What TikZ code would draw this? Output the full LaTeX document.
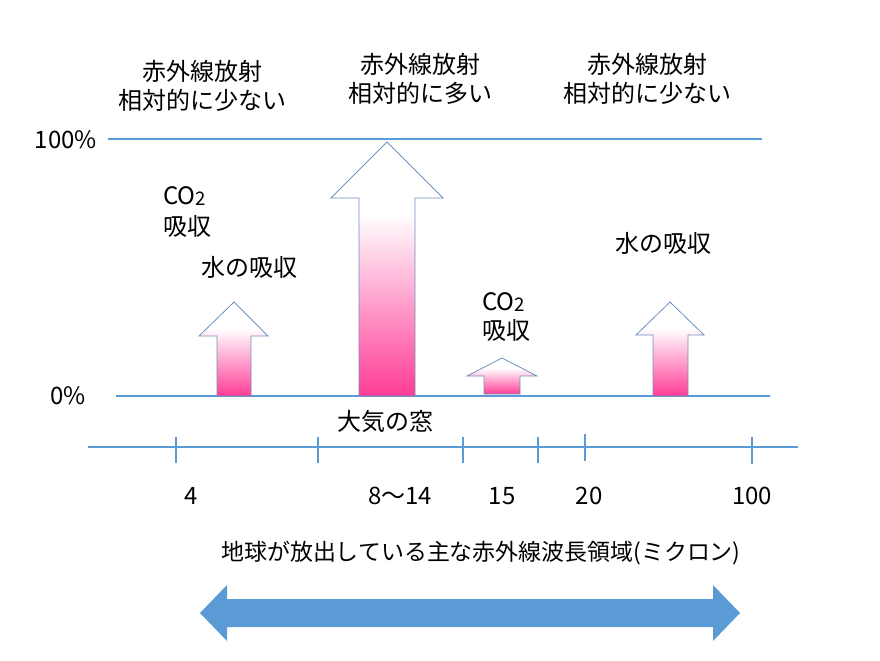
\documentclass[tikz,border=0pt]{standalone}
\usepackage{fontspec}
\setmainfont{Noto Sans CJK JP}
\definecolor{axblue}{RGB}{91,155,213}
\definecolor{arrline}{RGB}{110,145,190}
\definecolor{mpink}{RGB}{255,60,150}
\pgfdeclareverticalshading{arrshade}{100bp}{color(0bp)=(mpink); color(25bp)=(mpink); color(61bp)=(white); color(100bp)=(white)}
\newcommand\myuparr[8]{%
  \shade[shading=arrshade, draw=arrline, line width=0.6pt, line join=miter]
    (#1,#8) -- (#1,#5) -- (#3,#5) -- (#6,#7) -- (#4,#5) -- (#2,#5) -- (#2,#8) -- cycle;
}
\begin{document}
\begin{tikzpicture}[x=0.75pt,y=-0.75pt,
  txt/.style={font=\fontsize{18}{21.75}\selectfont, inner sep=0pt, align=center},
  axisline/.style={draw=axblue, line width=0.8pt}]
\useasboundingbox (0,0) rectangle (880,660);

% level lines
\draw[axisline] (108,139) -- (762,139);
\draw[axisline] (116,396) -- (770,396);

% up arrows
\myuparr{217}{251}{199}{268}{336}{234}{302}{396}
\myuparr{359}{415}{331}{443}{198}{387}{142}{396}
\myuparr{484}{520}{467}{537}{376}{502}{358}{394}
\myuparr{653}{688}{636}{704}{335}{670}{302}{396}

% wavelength axis
\draw[axisline] (88,447) -- (798,447);
\foreach \x/\a/\b in {176/437/463, 318/437/463, 463/437/463, 538/437/463, 585/434/461, 752/437/464}
  \draw[axisline] (\x,\a) -- (\x,\b);

% texts
\node[txt] (t1) at (202,86) {赤外線放射\\相対的に少ない};
\node[txt] (t2) at (420,79) {赤外線放射\\相対的に多い};
\node[txt] (t3) at (647,79) {赤外線放射\\相対的に少ない};
\node[txt] (p100) at (66,140) {100\%};
\node[txt] (p0) at (68,396) {0\%};
\node[txt, anchor=west] (co2a) at (163,196) {CO\raisebox{-0.5pt}{\fontsize{14}{14}\selectfont 2}};
\node[txt, anchor=west] (kyu1) at (163,226) {吸収};
\node[txt] (water1) at (249,267) {水の吸収};
\node[txt, anchor=west] (co2b) at (482,302) {CO\raisebox{-0.5pt}{\fontsize{14}{14}\selectfont 2}};
\node[txt, anchor=west] (kyu2) at (482,330) {吸収};
\node[txt] (water2) at (663,243) {水の吸収};
\node[txt] (window) at (385,421) {大気の窓};
\node[txt] (l4) at (191,496) {4};
\node[txt] (l8) at (400,496) {8〜14};
\node[txt] (l15) at (502,496) {15};
\node[txt] (l20) at (589,496) {20};
\node[txt] (l100) at (752,496) {100};
\node[txt, font=\fontsize{17.2}{21}\selectfont] (title) at (481,553) {地球が放出している主な赤外線波長領域(ミクロン)};

% double arrow
\fill[axblue] (200,613) -- (227,585) -- (227,599) -- (713,599) -- (713,585) -- (740,613)
  -- (713,641) -- (713,627) -- (227,627) -- (227,641) -- cycle;
\end{tikzpicture}
\end{document}
